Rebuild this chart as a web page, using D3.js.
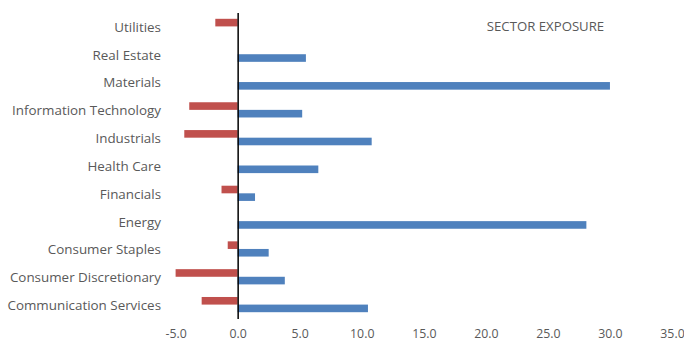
<!DOCTYPE html>
<html>
<head>
<meta charset="utf-8">
<script src="https://cdn.jsdelivr.net/npm/d3@7"></script>
<style>
  html, body { margin: 0; padding: 0; background: #fff; }
  svg { display: block; }
  text { font-family: "Open Sans", Lato, sans-serif; fill: #595959; }
</style>
</head>
<body>
<script>
// Sector exposure, listed top to bottom
const sectors = [
  "Utilities", "Real Estate", "Materials", "Information Technology",
  "Industrials", "Health Care", "Financials", "Energy",
  "Consumer Staples", "Consumer Discretionary", "Communication Services"
];
const shortExposure = [-1.8, 0, 0, -3.9, -4.3, 0, -1.3, 0, -0.8, -5.0, -2.9];
const longExposure  = [0, 5.5, 30.0, 5.2, 10.8, 6.5, 1.4, 28.1, 2.5, 3.8, 10.5];
const xTicks = [-5, 0, 5, 10, 15, 20, 25, 30, 35];
const seriesKeys = ["short", "long"];
const seriesColors = { short: "#C0504D", long: "#4F81BD" };
const chartTitle = "SECTOR EXPOSURE";

const W = 684, H = 342;
const svg = d3.select("body").append("svg").attr("width", W).attr("height", H);

const x = d3.scaleLinear().domain([-5, 35]).range([175.6, 672]);
const y = d3.scaleBand().domain(sectors).range([12.5, 318.5])
  .paddingInner(0.453).paddingOuter(0.2265);
const ySub = d3.scaleBand().domain(seriesKeys).range([0, y.bandwidth()]);

const rows = sectors.map((s, i) => ({ sector: s, short: shortExposure[i], long: longExposure[i] }));

// bars
const groups = svg.append("g").selectAll("g").data(rows).join("g")
  .attr("transform", d => `translate(0,${y(d.sector)})`);
groups.selectAll("rect")
  .data(d => seriesKeys.map(k => ({ key: k, value: d[k] })).filter(e => e.value !== 0))
  .join("rect")
  .attr("x", e => x(Math.min(0, e.value)))
  .attr("width", e => Math.abs(x(e.value) - x(0)))
  .attr("y", e => ySub(e.key))
  .attr("height", ySub.bandwidth())
  .attr("fill", e => seriesColors[e.key]);

// category axis along zero, labels pushed to the left margin
const yAxis = svg.append("g")
  .attr("transform", `translate(${x(0)},0)`)
  .call(d3.axisLeft(y).tickSize(0).tickPadding(x(0) - 161));
yAxis.select(".domain").attr("stroke", "#000").attr("stroke-width", 1.5);
yAxis.selectAll("text")
  .attr("dy", "0.40em")
  .style("font-size", "13.4px")
  .attr("fill", "#595959");

// value axis
const xAxis = svg.append("g")
  .attr("transform", "translate(0,318.5)")
  .call(d3.axisBottom(x).tickValues(xTicks).tickFormat(d => d.toFixed(1)).tickSize(0));
xAxis.select(".domain").remove();
xAxis.selectAll("text")
  .attr("y", 19.5).attr("dy", 0)
  .style("font-size", "12.3px")
  .attr("fill", "#595959");

svg.append("text")
  .attr("x", 545.5).attr("y", 30.7)
  .attr("text-anchor", "middle")
  .style("font-size", "13.2px")
  .text(chartTitle);
</script>
</body>
</html>
